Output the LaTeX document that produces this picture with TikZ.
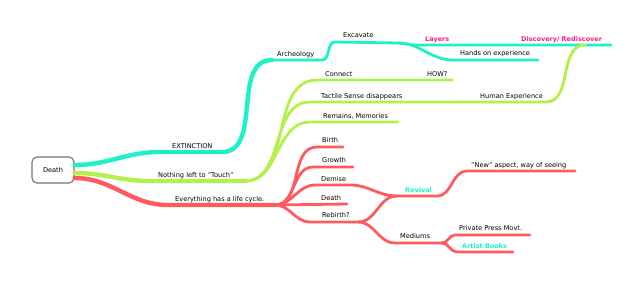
\documentclass[tikz,border=0pt]{standalone}
\usepackage{fontspec}
\setmainfont{DejaVu Sans}
\definecolor{cy}{HTML}{1EF0C8}
\definecolor{gr}{HTML}{B4F04A}
\definecolor{rd}{HTML}{FF5A5F}
\definecolor{pk}{HTML}{FF1A8C}
\begin{document}
\begin{tikzpicture}[x=1pt,y=-1pt,
  lbl/.style={anchor=base west, inner sep=0pt, font=\fontsize{6.6}{8}\selectfont},
  hl/.style={lbl, font=\fontsize{6.5}{8}\selectfont\bfseries},
  br/.style={line width=2.8pt, line cap=round},
  mainbr/.style={line width=4.4pt, line cap=round},
  sc/.style={out=0,in=180}]
\useasboundingbox (0,0) rectangle (640,284);

% root
\node[draw=black!55, rounded corners=5pt, line width=1.1pt, minimum width=42pt, minimum height=26pt, inner sep=0pt, font=\fontsize{6.6}{8}\selectfont] (death) at (53,170) {Death};

% coordinates: cyan
\coordinate (extA) at (160,152);
\coordinate (extB) at (222,152);
\coordinate (arcA) at (272,60);
\coordinate (arcB) at (322,60);
\coordinate (excA) at (335,42);
\coordinate (excB) at (398,43);
\coordinate (layA) at (415,45);
\coordinate (layB) at (611,45);
\coordinate (hanA) at (453,60);
\coordinate (hanB) at (538,60);
% green
\coordinate (notA) at (150,181);
\coordinate (notB) at (245,181);
\coordinate (conA) at (317,80);
\coordinate (conB) at (452,80);
\coordinate (tacA) at (310,102);
\coordinate (tacB) at (546,102);
\coordinate (disJ) at (585,45);
\coordinate (remA) at (310,122);
\coordinate (remB) at (398,122);
% red
\coordinate (eveA) at (168,205);
\coordinate (eveB) at (275,205);
\coordinate (birA) at (317,147);
\coordinate (birB) at (343,147);
\coordinate (groA) at (313,167);
\coordinate (groB) at (353,167);
\coordinate (demA) at (315,185);
\coordinate (demB) at (350,185);
\coordinate (deaB) at (347,204);
\coordinate (rebA) at (310,222);
\coordinate (rebB) at (358,222);
\coordinate (revA) at (397,196);
\coordinate (revB) at (437,196);
\coordinate (newA) at (467,171);
\coordinate (newB) at (575,171);
\coordinate (medA) at (395,243);
\coordinate (medB) at (442,243);
\coordinate (priA) at (455,235);
\coordinate (priB) at (530,235);
\coordinate (artA) at (457,252);
\coordinate (artB) at (513,252);

% cyan branch
\draw[mainbr, cy] ([yshift=5pt]death.east) to[sc] (extA) -- (extB) to[sc] (arcA);
\draw[br, cy] (arcA) -- (arcB) to[sc] (excA) -- (excB) to[sc] (layA) -- (layB);
\draw[br, cy] (excB) to[sc] (hanA) -- (hanB);
% green branch
\draw[mainbr, gr] ([yshift=-3pt]death.east) to[sc] (notA) -- (notB);
\draw[br, gr] (notB) to[sc] (conA) -- (conB);
\draw[br, gr] (notB) to[sc] (tacA) -- (tacB) to[sc] (disJ);
\draw[br, gr] (notB) to[sc] (remA) -- (remB);
% red branch
\draw[mainbr, rd] ([yshift=-8pt]death.east) to[sc] (eveA) -- (eveB);
\draw[br, rd] (eveB) to[sc] (birA) -- (birB);
\draw[br, rd] (eveB) to[sc] (groA) -- (groB);
\draw[br, rd] (eveB) to[sc] (demA) -- (demB) to[sc] (revA);
\draw[br, rd] (eveB) -- (deaB);
\draw[br, rd] (eveB) to[sc] (rebA) -- (rebB) to[sc] (revA);
\draw[br, rd] (rebB) to[sc] (medA);
\draw[br, rd] (revA) -- (revB) to[sc] (newA) -- (newB);
\draw[br, rd] (medA) -- (medB) to[sc] (priA) -- (priB);
\draw[br, rd] (medB) to[sc] (artA) -- (artB);

% labels
\node[lbl] (lExt) at (172,148) {EXTINCTION};
\node[lbl] (lArc) at (277,56) {Archeology};
\node[lbl] (lExc) at (343,37) {Excavate};
\node[hl, pk] (lLay) at (425,41) {Layers};
\node[hl, pk] (lDis) at (521,41) {Discovery/ Rediscover};
\node[lbl] (lHan) at (460,55) {Hands on experience};
\node[lbl] (lNot) at (158,177) {Nothing left to "Touch"};
\node[lbl] (lCon) at (325,76) {Connect};
\node[lbl] (lHow) at (427,76) {HOW?};
\node[lbl] (lTac) at (321,98) {Tactile Sense disappears};
\node[lbl] (lHum) at (480,98) {Human Experience};
\node[lbl] (lRem) at (323,118) {Remains, Memories};
\node[lbl] (lEve) at (175,201) {Everything has a life cycle.};
\node[lbl] (lBir) at (322,142) {Birth};
\node[lbl] (lGro) at (322,162) {Growth};
\node[lbl] (lDem) at (321,181) {Demise};
\node[lbl] (lDea) at (321,200) {Death};
\node[lbl] (lReb) at (322,217) {Rebirth?};
\node[hl, cy] (lRev) at (405,192) {Revival};
\node[lbl] (lNew) at (471,167) {"New" aspect, way of seeing};
\node[lbl] (lMed) at (400,238) {Mediums};
\node[lbl] (lPri) at (459,230) {Private Press Movt.};
\node[hl, cy] (lArt) at (462,248) {Artist Books};
\end{tikzpicture}
\end{document}
